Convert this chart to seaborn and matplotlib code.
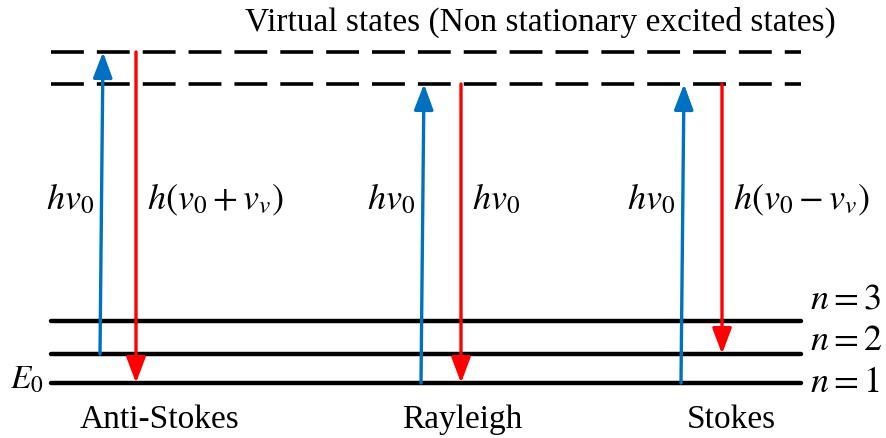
import matplotlib
matplotlib.use("Agg")
import matplotlib.pyplot as plt
import seaborn as sns
import pandas as pd

# ---- data ----
level_names = ["n = 1", "n = 2", "n = 3"]
level_energy = [0, 29, 62]
virtual_energy = [299, 331]
process_names = ["Anti-Stokes", "Rayleigh", "Stokes"]
absorb_start = [29, 0, 0]          # blue arrow start level
absorb_end = [331, 299, 299]       # blue arrow end (virtual)
emit_end = [0, 0, 29]              # red arrow end level
absorb_x0 = [100, 421, 681]
absorb_x1 = [103, 424, 684]
emit_x = [136, 461, 722]
absorb_labels = [r"$hv_0$", r"$hv_0$", r"$hv_0$"]
emit_labels = [r"$h(v_0+v_v)$", r"$hv_0$", r"$h(v_0-v_v)$"]

sns.set_theme(style="white")
plt.rcParams["mathtext.fontset"] = "stix"
plt.rcParams["font.family"] = ["Liberation Serif", "DejaVu Serif"]
plt.rcParams["text.color"] = "black"

fig = plt.figure(figsize=(8.87, 4.38), dpi=100)
ax = fig.add_axes([0, 0, 1, 1])
ax.set_xlim(0, 887)
ax.set_ylim(-55, 383)
ax.axis("off")

xl, xr = 51, 801
# ground/vibrational levels
lev = pd.DataFrame({"x": [xl, xr] * 3,
                    "E": [e for e in level_energy for _ in range(2)],
                    "lvl": [n for n in level_names for _ in range(2)]})
sns.lineplot(data=lev, x="x", y="E", units="lvl", estimator=None,
             color="black", lw=3.2, ax=ax, legend=False)
# virtual levels
for e in virtual_energy:
    ax.plot([xl, xr], [e, e], color="black", lw=2.6, dashes=(9.1, 3.6),
            solid_capstyle="butt", dash_capstyle="butt")

blue = "#0070C0"
red = "#FF0000"
astyle = "-|>,head_length=1.2,head_width=0.45"
for i in range(3):
    ax.annotate("", xy=(absorb_x1[i], absorb_end[i]), xytext=(absorb_x0[i], absorb_start[i]),
                arrowprops=dict(arrowstyle=astyle, color=blue, lw=2.4,
                                shrinkA=0, shrinkB=0, mutation_scale=13))
    ax.annotate("", xy=(emit_x[i], emit_end[i]), xytext=(emit_x[i], absorb_end[i]),
                arrowprops=dict(arrowstyle=astyle, color=red, lw=2.4,
                                shrinkA=0, shrinkB=0, mutation_scale=13))
    ax.text(absorb_x0[i] - 6, 183, absorb_labels[i], ha="right", va="center", fontsize=26)
    ax.text(emit_x[i] + 11, 183, emit_labels[i], ha="left", va="center", fontsize=26)

ax.text(540, 361, "Virtual states (Non stationary excited states)",
        ha="center", va="center", fontsize=24)

label_x = [160, 462, 731]
for i, name in enumerate(process_names):
    ax.text(label_x[i], -37, name, ha="center", va="center", fontsize=24)

ax.text(10, 3, r"$E_0$", ha="left", va="center", fontsize=24)
label_y = [0, 42, 83]
for n, y in zip(level_names, label_y):
    ax.text(810, y, "$" + n.replace(" ", "") + "$", ha="left", va="center", fontsize=26)

fig.savefig("out.png", dpi=100)
